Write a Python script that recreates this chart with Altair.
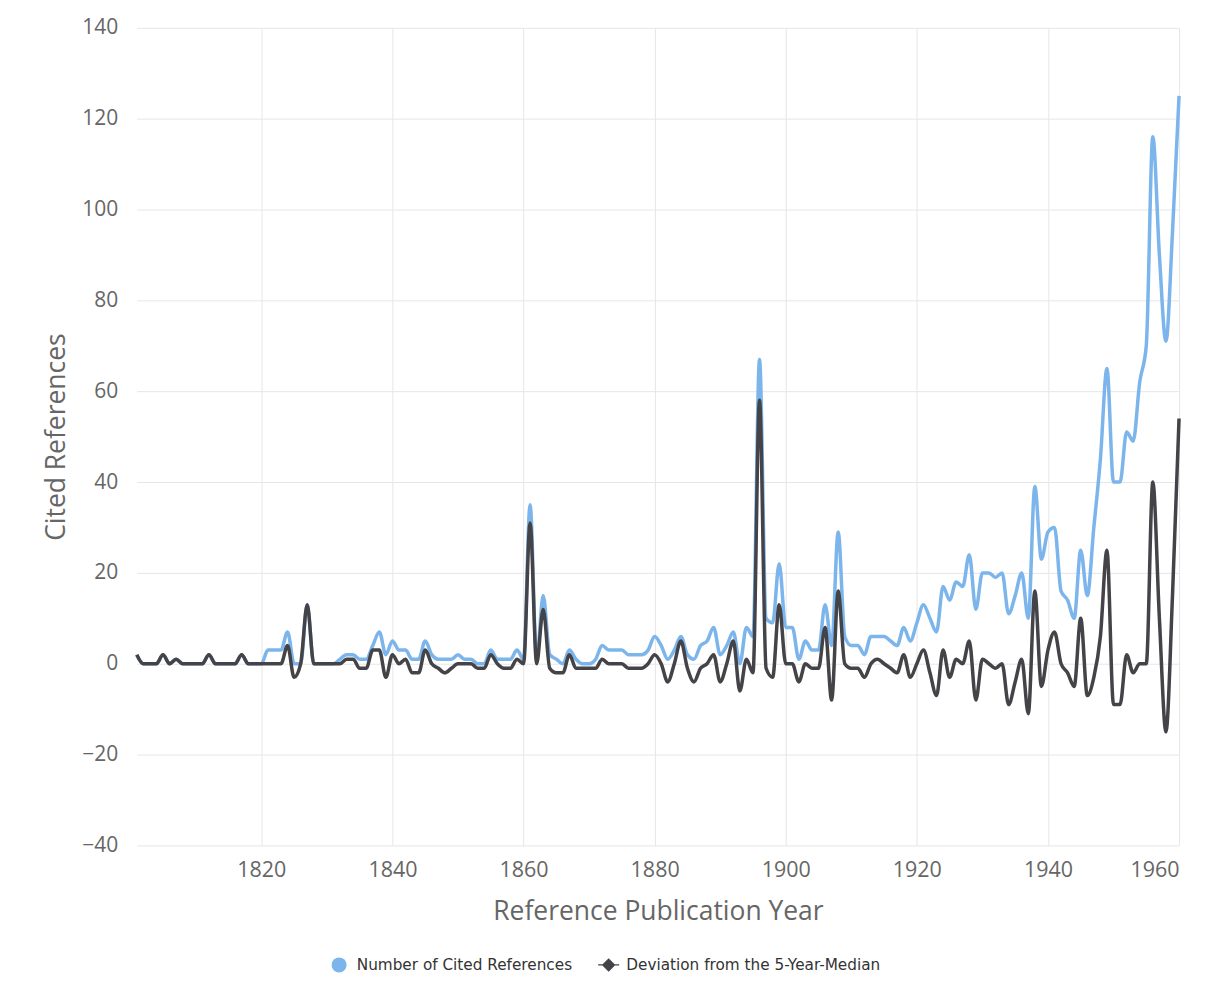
import altair as alt
import pandas as pd

years = list(range(1801, 1961))

cited = [
    2, 0, 0, 0, 2, 0, 1, 0, 0, 0,          # 1801-1810
    0, 2, 0, 0, 0, 0, 2, 0, 0, 0,          # 1811-1820
    3, 3, 3, 7, 0, 0, 13, 0, 0, 0,         # 1821-1830
    0, 1, 2, 2, 1, 1, 4, 7, 2, 5,          # 1831-1840
    3, 3, 1, 1, 5, 2, 1, 1, 1, 2,          # 1841-1850
    1, 1, 0, 0, 3, 1, 1, 1, 3, 1,          # 1851-1860
    35, 1, 15, 2, 1, 0, 3, 1, 0, 0,        # 1861-1870
    1, 4, 3, 3, 3, 2, 2, 2, 3, 6,          # 1871-1880
    4, 1, 3, 6, 2, 1, 4, 5, 8, 2,          # 1881-1890
    4, 7, 0, 8, 6, 67, 10, 9, 22, 8,       # 1891-1900
    8, 1, 5, 3, 3, 13, 4, 29, 6, 4,        # 1901-1910
    4, 2, 6, 6, 6, 5, 4, 8, 5, 9,          # 1911-1920
    13, 10, 7, 17, 14, 18, 17, 24, 12, 20, # 1921-1930
    20, 19, 20, 11, 15, 20, 10, 39, 23, 29,# 1931-1940
    30, 16, 14, 10, 25, 15, 30, 45, 65, 40,# 1941-1950
    40, 51, 49, 62, 70, 116, 90, 71, 95, 125, # 1951-1960
]

deviation = [
    2, 0, 0, 0, 2, 0, 1, 0, 0, 0,          # 1801-1810
    0, 2, 0, 0, 0, 0, 2, 0, 0, 0,          # 1811-1820
    0, 0, 0, 4, -3, 0, 13, 0, 0, 0,        # 1821-1830
    0, 0, 1, 1, -1, -1, 3, 3, -3, 2,       # 1831-1840
    0, 1, -2, -2, 3, 0, -1, -2, -1, 0,     # 1841-1850
    0, 0, -1, -1, 2, 0, -1, -1, 1, 0,      # 1851-1860
    31, 0, 12, -1, -2, -2, 2, -1, -1, -1,  # 1861-1870
    -1, 1, 0, 0, 0, -1, -1, -1, 0, 2,      # 1871-1880
    0, -4, 0, 5, -1, -4, -1, 0, 2, -4,     # 1881-1890
    0, 5, -6, 1, -2, 58, -1, -3, 13, 0,    # 1891-1900
    0, -4, 0, -1, -1, 8, -8, 16, 0, -1,    # 1901-1910
    -1, -3, 0, 1, 0, -1, -2, 2, -3, 0,     # 1911-1920
    3, -2, -7, 3, -3, 1, 0, 5, -8, 1,      # 1921-1930
    0, -1, 0, -9, -4, 1, -11, 16, -5, 3,   # 1931-1940
    7, 0, -2, -5, 10, -7, -3, 6, 25, -9,   # 1941-1950
    -9, 2, -2, 0, 0, 40, 10, -15, 15, 54,  # 1951-1960
]

series_names = ["Number of Cited References", "Deviation from the 5-Year-Median"]
series_colors = ["#7cb5ec", "#434348"]
x_ticks = [1820, 1840, 1860, 1880, 1900, 1920, 1940, 1960]
y_ticks = [-40, -20, 0, 20, 40, 60, 80, 100, 120, 140]

rows = []
for y, v in zip(years, cited):
    rows.append({"year": y, "value": v, "series": series_names[0]})
for y, v in zip(years, deviation):
    rows.append({"year": y, "value": v, "series": series_names[1]})
df = pd.DataFrame(rows)

diamond_path = ("M-1.4,-0.09L1.4,-0.09L1.4,0.09L-1.4,0.09Z"
                "M0,-0.9L0.9,0L0,0.9L-0.9,0Z")

x_enc = alt.X("year:Q",
              scale=alt.Scale(domain=[1801, 1960], nice=False, zero=False),
              axis=alt.Axis(values=x_ticks, format="d", title="Reference Publication Year",
                            ticks=False, domain=False, labelPadding=14, titlePadding=18,
                            labelFontSize=21.5, titleFontSize=26.5, labelFlush=True))
y_enc = alt.Y("value:Q",
              scale=alt.Scale(domain=[-40, 140], nice=False, zero=False),
              axis=alt.Axis(values=y_ticks, title="Cited References", ticks=False,
                            domain=False, labelPadding=19, titlePadding=11,
                            labelFontSize=21, titleFontSize=26.5))

base = alt.Chart(df)

blue_line = base.transform_filter(alt.datum.series == series_names[0]).mark_line(
    color=series_colors[0], strokeWidth=3.5, interpolate="monotone"
).encode(x=x_enc, y=y_enc)

black_line = base.transform_filter(alt.datum.series == series_names[1]).mark_line(
    color=series_colors[1], strokeWidth=3.5, interpolate="monotone"
).encode(x=x_enc, y=y_enc)

leg = alt.Legend(title=None, orient="none", legendX=195, legendY=931, direction="horizontal",
                 symbolSize=225, symbolOpacity=1, labelFontSize=15.3, labelColor="#333333",
                 labelFont="DejaVu Sans", columnPadding=25, labelOffset=10,
                 symbolStrokeWidth=0, labelLimit=0)

legend_pts = base.mark_point(filled=True, opacity=0).encode(
    x=x_enc, y=y_enc,
    color=alt.Color("series:N", scale=alt.Scale(domain=series_names, range=series_colors), legend=leg),
    shape=alt.Shape("series:N", scale=alt.Scale(domain=series_names, range=["circle", diamond_path]),
                    legend=leg),
)

chart = alt.layer(blue_line, black_line, legend_pts).properties(
    width=1044, height=819,
    autosize=alt.AutoSizeParams(type="none"),
    padding={"left": 129, "top": 19, "right": 30, "bottom": 150},
    background="white",
).configure_axis(
    labelColor="#666666", titleColor="#666666", gridColor="#e6e6e6",
    labelFont="Open Sans", titleFont="Open Sans", titleFontWeight="normal",
).configure_view(stroke=None)

chart.save("out.html", embed_options={"renderer": "svg", "actions": False})
